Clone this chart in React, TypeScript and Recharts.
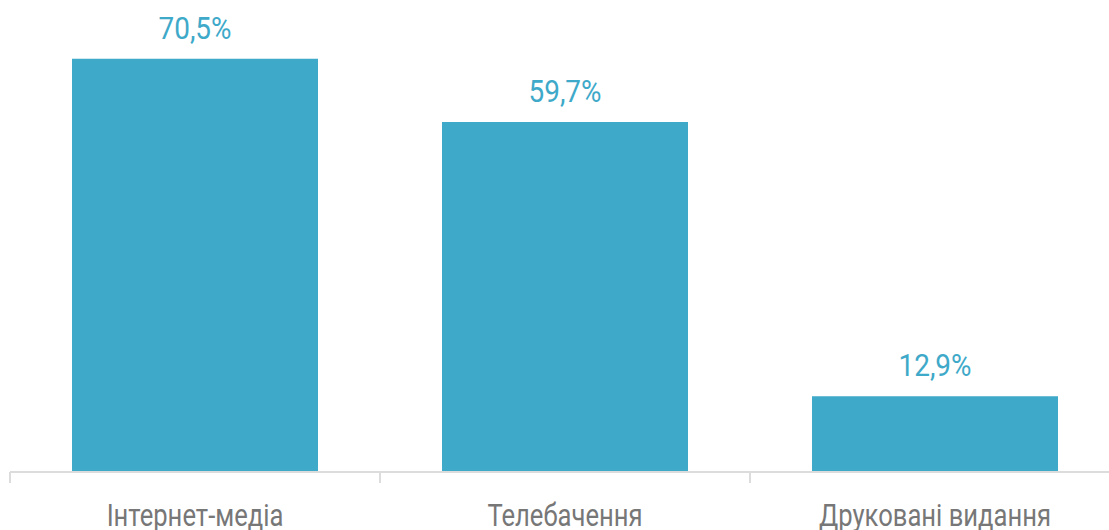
import React from "react";
import { BarChart, Bar, XAxis, YAxis, LabelList } from "recharts";

const categories = ["Інтернет-медіа", "Телебачення", "Друковані видання"];
const values = [70.5, 59.7, 12.9];
const valueLabels = ["70,5%", "59,7%", "12,9%"];

const data = categories.map((c, i) => ({ name: c, value: values[i], label: valueLabels[i] }));

const FONT = "Roboto, 'Noto Sans', sans-serif";
const BAR = "#3ea9c9";
const AXIS = "#dcdcdc";
const CHART_W = 1120;
const MARGIN_L = 10;
const HALF_BAND = (CHART_W - MARGIN_L) / categories.length / 2;

const Tick = (props: any) => {
  const { x, y, payload, index } = props;
  return (
    <g transform={`translate(${x},${y})`}>
      <line x1={-HALF_BAND} x2={-HALF_BAND} y1={-13} y2={-2} stroke={AXIS} strokeWidth={2} />
      {index === categories.length - 1 && (
        <line x1={HALF_BAND} x2={HALF_BAND} y1={-13} y2={-2} stroke={AXIS} strokeWidth={2} />
      )}
      <text
        x={0}
        y={0}
        dy={41}
        textAnchor="middle"
        fontFamily={FONT}
        fontSize={32}
        fill="#777777"
        transform="scale(0.8,1)"
      >
        {payload.value}
      </text>
    </g>
  );
};

const ValueLabel = (props: any) => {
  const { x, y, width, index } = props;
  const cx = x + width / 2;
  return (
    <g transform={`translate(${cx},${y - 20})`}>
      <text
        x={0}
        y={0}
        textAnchor="middle"
        fontFamily={FONT}
        fontSize={31}
        fill={BAR}
        transform="scale(0.9,1)"
      >
        {valueLabels[index]}
      </text>
    </g>
  );
};

export default function App() {
  return (
    <div
      style={{
        position: "absolute",
        left: 0,
        top: 0,
        width: 1109,
        height: 530,
        overflow: "hidden",
        background: "#ffffff",
      }}
    >
      <BarChart
        width={CHART_W}
        height={530}
        data={data}
        margin={{ top: 3, right: 0, left: MARGIN_L, bottom: 0 }}
      >
        <XAxis
          dataKey="name"
          height={58}
          axisLine={{ stroke: AXIS, strokeWidth: 2 }}
          tickLine={false}
          tickSize={11}
          interval={0}
          tick={<Tick />}
        />
        <YAxis hide domain={[0, 80]} />
        <Bar dataKey="value" fill={BAR} barSize={246} isAnimationActive={false}>
          <LabelList dataKey="label" content={<ValueLabel />} />
        </Bar>
      </BarChart>
    </div>
  );
}
